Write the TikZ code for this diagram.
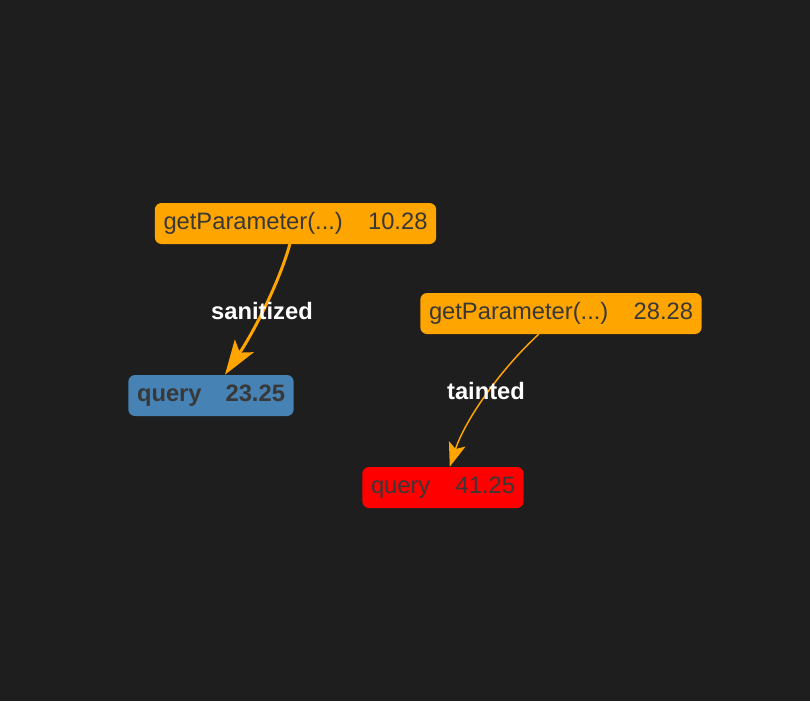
\documentclass[tikz,border=0pt]{standalone}
\usepackage{fontspec}
\setmainfont{Liberation Sans}
\usetikzlibrary{arrows.meta}

\definecolor{canvas}{HTML}{1E1E1E}
\definecolor{source}{HTML}{FFA500}
\definecolor{safe}{HTML}{4682B4}
\definecolor{sink}{HTML}{FF0000}
\definecolor{ink}{HTML}{383838}

\begin{document}
\begin{tikzpicture}[
    x=0.75pt, y=-0.75pt,
    font=\fontsize{17.8}{20}\selectfont,
    nodebox/.style={rounded corners=5pt, inner xsep=6.5pt, inner ysep=0pt, minimum height=30.75pt, text=ink, align=left},
    flow/.style={draw=source, line cap=round},
    flowlabel/.style={text=white, inner sep=0pt, font=\fontsize{17.8}{20}\selectfont\bfseries}
]
\fill[canvas] (0,0) rectangle (810,701);
\useasboundingbox (0,0) rectangle (810,701);

\node[nodebox, fill=source, text width=198pt] (param1) at (295.5,223.5) {getParameter(...)\hfill 10.28};
\node[nodebox, fill=source, text width=198pt] (param2) at (561,313.5) {getParameter(...)\hfill 28.28};
\node[nodebox, fill=safe, text width=111pt, font=\fontsize{17.8}{20}\selectfont\bfseries] (query1) at (211,395.5) {query\hfill 23.25};
\node[nodebox, fill=sink, text width=108pt] (query2) at (443,487.5) {query\hfill 41.25};

\draw[flow, line width=2.25pt, -{Stealth[length=26pt, width=17pt, inset=6pt]}] (param1) .. controls (280,280) and (255,330) .. (query1);
\draw[flow, line width=1.1pt, -{Stealth[length=18pt, width=13pt, inset=4pt]}] (param2) .. controls (500,370) and (465,420) .. (query2);

\node[flowlabel] (sanitized) at (262,311) {sanitized};
\node[flowlabel] (tainted) at (486,391) {tainted};
\end{tikzpicture}
\end{document}
